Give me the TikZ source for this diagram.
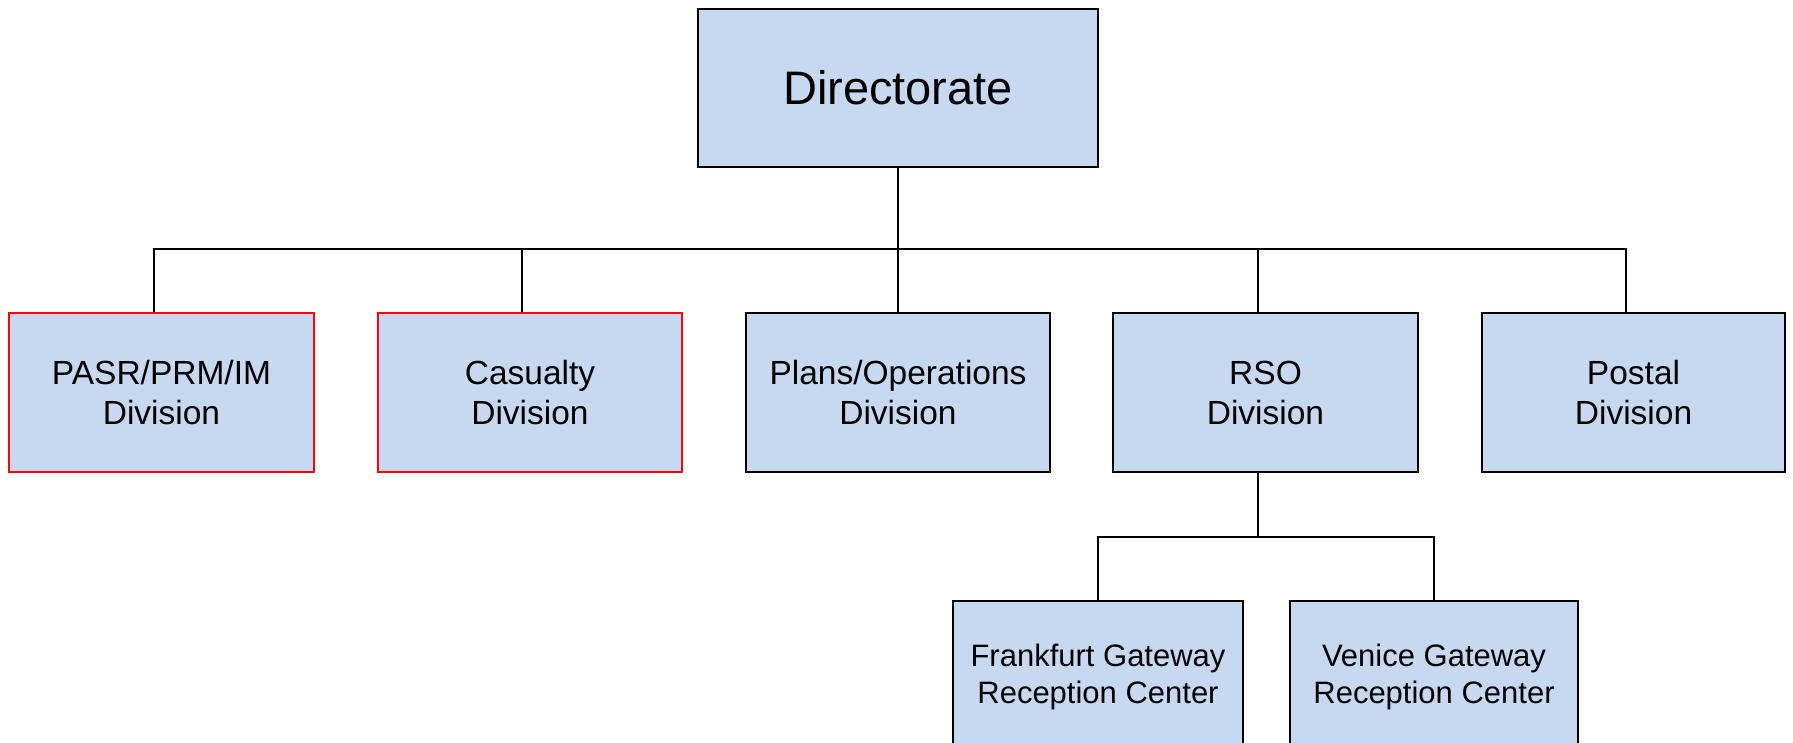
\documentclass[tikz,border=0pt]{standalone}
\usepackage{fontspec}
\setmainfont{Liberation Sans}
\definecolor{boxfill}{RGB}{198,217,240}
\definecolor{redline}{RGB}{255,0,0}
\begin{document}
\begin{tikzpicture}[x=1pt,y=-1pt,
  orgbox/.style={draw=black, line width=2.8pt, fill=boxfill, rectangle, inner sep=0pt,
     align=center, text=black},
  redbox/.style={orgbox, draw=redline},
  toptext/.style={font=\fontsize{47}{54}\selectfont},
  midtext/.style={font=\fontsize{33.5}{40}\selectfont, minimum height=159pt},
  lowtext/.style={font=\fontsize{31}{37}\selectfont, minimum height=152pt},
  conn/.style={draw=black, line width=2.6pt}]
\clip (0,0) rectangle (1793,743);
\fill[white] (0,0) rectangle (1793,743);

\node[orgbox, toptext, minimum width=400pt, minimum height=158pt] (dir) at (898,88) {\raisebox{-3pt}{Directorate}};

\node[redbox, midtext, minimum width=305pt] (pasr) at (161.5,392.5) {PASR/PRM/IM\\Division};
\node[redbox, midtext, minimum width=304pt] (cas) at (530,392.5) {Casualty\\Division};
\node[orgbox, midtext, minimum width=304pt] (plans) at (898,392.5) {Plans/Operations\\Division};
\node[orgbox, midtext, minimum width=305pt] (rso) at (1265.5,392.5) {RSO\\Division};
\node[orgbox, midtext, minimum width=303pt] (postal) at (1633.5,392.5) {Postal\\Division};

\node[orgbox, lowtext, minimum width=290pt] (frank) at (1098,677) {Frankfurt Gateway\\Reception Center};
\node[orgbox, lowtext, minimum width=288pt] (venice) at (1434,677) {Venice Gateway\\Reception Center};

\coordinate (bus) at (898,249);
\coordinate (bus2) at (1258,537);

\draw[conn] (dir.south) -- (dir.south |- bus);
\draw[conn] ([xshift=-7.5pt]pasr.north) |- (bus) -| ([xshift=-7.5pt]postal.north);
\draw[conn] ([xshift=-8pt]cas.north) -- ([xshift=-8pt]cas.north |- bus);
\draw[conn] (plans.north) -- (plans.north |- bus);
\draw[conn] ([xshift=-7.5pt]rso.north) -- ([xshift=-7.5pt]rso.north |- bus);

\draw[conn] ([xshift=-7.5pt]rso.south) -- (bus2);
\draw[conn] (frank.north) |- (bus2) -| (venice.north);
\end{tikzpicture}
\end{document}
